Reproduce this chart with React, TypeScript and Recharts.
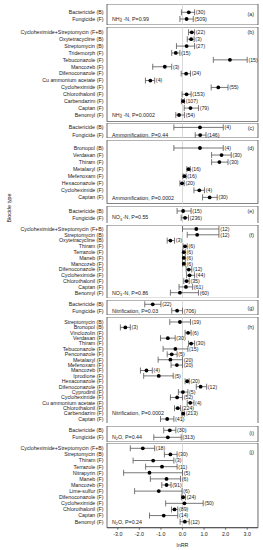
import React from 'react';
import { ScatterChart, Scatter, XAxis, YAxis, ErrorBar, ReferenceLine, ReferenceArea } from 'recharts';

// ---------- DATA ----------
// (a) NH4+-N by biocide class
const namesA = ['Bactericide (B)', 'Fungicide (F)'];
const meanA = [0.29, 0.19];
const lowA = [-0.05, -0.12];
const highA = [0.56, 0.5];
const countA = [30, 509];

// (b) NH4+-N by biocide
const namesB = ['Cycloheximide+Streptomycin (F+B)', 'Oxytetracycline (B)', 'Streptomycin (B)', 'Tridemorph (F)', 'Tebuconazole (F)', 'Mancozeb (F)', 'Difenoconazole (F)', 'Cu ammonium acetate (F)', 'Cycloheximide (F)', 'Chlorothalonil (F)', 'Carbendazim (F)', 'Captan (F)', 'Benomyl (F)'];
const meanB = [0.43, 0.4, 0.19, -0.31, 2.2, -0.82, 0.17, -1.49, 1.66, 0.19, 0.03, 0.37, -0.16];
const lowB = [0.28, 0.22, -0.28, -0.5, 1.43, -1.38, -0.06, -1.72, 1.33, -0.02, -0.05, 0.08, -0.31];
const highB = [0.56, 0.54, 0.56, -0.12, 3.0, -0.5, 0.37, -1.29, 2.11, 0.4, 0.09, 0.74, 0.09];
const countB = [22, 3, 27, 15, 15, 3, 24, 4, 55, 153, 107, 79, 54];

// (c) Ammonification by class
const namesC = ['Bactericide (B)', 'Fungicide (F)'];
const meanC = [0.81, 0.82];
const lowC = [-0.4, 0.59];
const highC = [1.89, 1.09];
const countC = [4, 146];

// (d) Ammonification by biocide
const namesD = ['Bronopol (B)', 'Verdasan (F)', 'Thiram (F)', 'Metalaxyl (F)', 'Mefenoxam (F)', 'Hexaconazole (F)', 'Cycloheximide (F)', 'Captan (F)'];
const meanD = [0.81, 1.81, 1.71, 0.28, 0.09, -0.02, 0.78, 1.26];
const lowD = [-0.4, 1.35, 1.35, 0.2, 0.02, -0.12, 0.53, 0.93];
const highD = [1.89, 2.26, 2.11, 0.36, 0.17, 0.08, 1.02, 1.61];
const countD = [4, 30, 30, 16, 16, 20, 4, 30];

// (e) NO3--N by class
const namesE = ['Bactericide (B)', 'Fungicide (F)'];
const meanE = [0.03, 0.12];
const lowE = [-0.25, -0.06];
const highE = [0.4, 0.28];
const countE = [15, 236];

// (f) NO3--N by biocide
const namesF = ['Cycloheximide+Streptomycin (F+B)', 'Streptomycin (B)', 'Oxytetracycline (B)', 'Thiram (F)', 'Terrazole (F)', 'Maneb (F)', 'Mancozeb (F)', 'Difenoconazole (F)', 'Cycloheximide (F)', 'Chlorothalonil (F)', 'Captan (F)', 'Benomyl (F)'];
const meanF = [0.64, 0.68, -0.56, 0.12, 0.06, 0.06, 0.06, 0.29, 0.33, 0.19, 0.16, -0.12];
const lowF = [0.0, 0.22, -0.71, 0.03, 0.0, 0.0, 0.0, 0.17, 0.19, 0.06, -0.16, -0.56];
const highF = [1.69, 1.69, -0.37, 0.22, 0.13, 0.13, 0.13, 0.43, 0.56, 0.31, 0.47, 0.74];
const countF = [12, 12, 3, 6, 6, 6, 6, 12, 44, 35, 61, 60];

// (g) Nitrification by class
const namesG = ['Bactericide (B)', 'Fungicide (F)'];
const meanG = [-1.38, -0.25];
const lowG = [-1.75, -0.5];
const highG = [-1.0, 0.0];
const countG = [22, 706];

// (h) Nitrification by biocide
const namesH = ['Streptomycin (B)', 'Bronopol (B)', 'Vinclozolin (F)', 'Verdasan (F)', 'Thiram (F)', 'Tebuconazole (F)', 'Penconazole (F)', 'Metalaxyl (F)', 'Mefenoxam (F)', 'Mancozeb (F)', 'Iprodione (F)', 'Hexaconazole (F)', 'Difenoconazole (F)', 'Cyprodinil (F)', 'Cycloheximide (F)', 'Cu ammonium acetate (F)', 'Chlorothalonil (F)', 'Carbendazim (F)', 'Captan (F)'];
const meanH = [-0.12, -2.65, 0.26, -0.68, 0.4, -0.33, -0.5, -0.56, -0.26, -1.67, -1.1, 0.22, 0.84, 0.02, -0.25, 0.36, -0.22, 0.03, -0.71];
const lowH = [-0.59, -2.88, 0.12, -1.02, 0.28, -0.9, -0.71, -1.13, -0.53, -1.95, -1.8, 0.12, 0.64, -0.19, -0.56, 0.22, -0.37, -0.03, -1.02];
const highH = [0.37, -2.42, 0.4, -0.34, 0.56, 0.25, -0.25, 0.0, 0.0, -1.4, -0.43, 0.31, 1.12, 0.25, 0.0, 0.53, -0.09, 0.09, -0.4];
const countH = [19, 3, 6, 30, 30, 15, 5, 20, 20, 4, 5, 20, 12, 5, 52, 4, 224, 213, 41];

// (i) N2O by class
const namesI = ['Bactericide (B)', 'Fungicide (F)'];
const meanI = [-0.59, -0.68];
const lowI = [-0.87, -1.33];
const highI = [-0.31, -0.06];
const countI = [30, 313];

// (j) N2O by biocide
const namesJ = ['Cycloheximide+Streptomycin (F+B)', 'Streptomycin (B)', 'Thiram (F)', 'Terrazole (F)', 'Nitrapyrin (F)', 'Maneb (F)', 'Mancozeb (F)', 'Lime-sulfur (F)', 'Difenoconazole (F)', 'Cycloheximide (F)', 'Chlorothalonil (F)', 'Captan (F)', 'Benomyl (F)'];
const meanJ = [-1.84, -0.56, -1.36, -0.95, -1.53, -0.74, -0.74, -1.1, 0.03, 0.09, -0.37, -0.87, 0.11];
const lowJ = [-2.42, -0.84, -2.29, -1.71, -2.73, -1.49, -0.96, -2.22, -0.05, -0.78, -0.51, -1.53, -0.11];
const highJ = [-1.29, -0.25, -0.4, -0.25, 0.0, -0.09, -0.53, -0.02, 0.14, 0.96, -0.22, -0.22, 0.31];
const countJ = [18, 30, 3, 11, 5, 6, 91, 6, 24, 50, 89, 14, 12];

const xTicks = [-3, -2, -1, 0, 1, 2, 3];
const xDomain = [-3.5, 3.5];
const panelLetters = ['(a)', '(b)', '(c)', '(d)', '(e)', '(f)', '(g)', '(h)', '(i)', '(j)'];

type Seg = [string, 'n' | 'sub' | 'sup'];
const nh4 = (p: string): Seg[] => [['NH', 'n'], ['4', 'sub'], ['+', 'sup'], [' -N, P=' + p, 'n']];
const no3 = (p: string): Seg[] => [['NO', 'n'], ['3', 'sub'], ['-', 'sup'], [' -N, P=' + p, 'n']];
const n2o = (p: string): Seg[] => [['N', 'n'], ['2', 'sub'], ['O, P=' + p, 'n']];
const panelNotes: Seg[][] = [
  nh4('0.99'),
  nh4('0.0002'),
  [['Ammonification, P=0.44', 'n']],
  [['Ammonification, P=0.0002', 'n']],
  no3('0.55'),
  no3('0.86'),
  [['Nitrification, P=0.03', 'n']],
  [['Nitrification, P=0.0002', 'n']],
  n2o('0.44'),
  n2o('0.24'),
];
const noteRowFromEnd = [0, 0, 0, 0, 0, 0, 0, 1, 0, 0];

const panels = [
  { names: namesA, mean: meanA, low: lowA, high: highA, count: countA },
  { names: namesB, mean: meanB, low: lowB, high: highB, count: countB },
  { names: namesC, mean: meanC, low: lowC, high: highC, count: countC },
  { names: namesD, mean: meanD, low: lowD, high: highD, count: countD },
  { names: namesE, mean: meanE, low: lowE, high: highE, count: countE },
  { names: namesF, mean: meanF, low: lowF, high: highF, count: countF },
  { names: namesG, mean: meanG, low: lowG, high: highG, count: countG },
  { names: namesH, mean: meanH, low: lowH, high: highH, count: countH },
  { names: namesI, mean: meanI, low: lowI, high: highI, count: countI },
  { names: namesJ, mean: meanJ, low: lowJ, high: highJ, count: countJ },
];

// ---------- LAYOUT (page px) ----------
const LAYOUT = [
  { top: 4, bottom: 25, first: 12.3, last: 19.0 },
  { top: 27, bottom: 121.7, first: 32.3, last: 115.0 },
  { top: 123.3, bottom: 138.3, first: 127.7, last: 135.4 },
  { top: 140.3, bottom: 204, first: 148.3, last: 197.7 },
  { top: 205.7, bottom: 223.3, first: 210.7, last: 217.5 },
  { top: 225, bottom: 298.3, first: 229, last: 292.7 },
  { top: 300, bottom: 315, first: 304.3, last: 310.7 },
  { top: 316.7, bottom: 423.3, first: 321.7, last: 418.7 },
  { top: 425.7, bottom: 441.7, first: 430, last: 437 },
  { top: 443, bottom: 527.7, first: 448.3, last: 521.7 },
];
const letterY = [14, 32.3, 127.7, 148.3, 211, 234.7, 308, 327, 433, 451.7];

const W = 263;
const PLOT_LEFT = 107;
const PLOT_RIGHT = 258;
const FS = 5.3;
const TXT = '#222';
const LINE = '#444';
const X_AXIS_H = 13;

function geom(i: number) {
  const g = LAYOUT[i];
  const n = panels[i].names.length;
  const s = (g.last - g.first) / (n - 1);
  return { ...g, n, s, d0: -(g.first - g.top) / s, d1: n - 1 + (g.bottom - g.last) / s };
}

const Dot = (props: any) => {
  const { cx, cy } = props;
  if (cx == null || cy == null) return null;
  return <circle cx={cx} cy={cy} r={1.9} fill="#000" />;
};

const CountLabel = (props: any) => {
  const { cx, cy, payload } = props;
  if (cx == null || cy == null) return null;
  return (
    <text x={cx + 1.2} y={cy} dy="0.35em" fontSize={FS} fill={TXT}>
      ({payload.count})
    </text>
  );
};

const XTick = (props: any) => {
  const { x, y, payload } = props;
  return (
    <text x={x} y={y} dy="0.71em" textAnchor="middle" fontSize={FS} fill={TXT}>
      {Number(payload.value).toFixed(1)}
    </text>
  );
};

function Panel({ i }: { i: number }) {
  const p = panels[i];
  const g = geom(i);
  const isLast = i === panels.length - 1;
  const isFirst = i === 0;
  const data = p.names.map((name, k) => ({
    name,
    row: k,
    x: p.mean[k],
    err: [p.mean[k] - p.low[k], p.high[k] - p.mean[k]],
    count: p.count[k],
  }));
  // count labels sit at the upper end of each CI
  const labelData = p.names.map((name, k) => ({ name, row: k, x: p.high[k], count: p.count[k] }));
  const ticks = p.names.map((_, k) => k);
  const h = g.bottom - g.top + (isLast ? X_AXIS_H : 0);
  const YTick = (tp: any) => (
    <text x={tp.x} y={tp.y} dy="0.35em" textAnchor="end" fontSize={FS} fill={TXT}>
      {p.names[tp.payload.value] ?? ''}
    </text>
  );
  return (
    <div style={{ position: 'absolute', left: 0, top: g.top, width: W, height: h }}>
      <ScatterChart width={W} height={h} margin={{ top: 0, right: W - PLOT_RIGHT, bottom: 0, left: 0 }}>
        <XAxis
          type="number"
          dataKey="x"
          scale="linear"
          domain={xDomain}
          allowDataOverflow
          ticks={xTicks}
          hide={!isLast}
          height={X_AXIS_H}
          tickSize={2}
          tickMargin={2.5}
          axisLine={{ stroke: LINE, strokeWidth: 0.8 }}
          tickLine={{ stroke: LINE, strokeWidth: 0.8 }}
          tick={XTick}
          interval={0}
        />
        {isFirst && (
          <XAxis
            xAxisId="top"
            orientation="top"
            mirror
            type="number"
            dataKey="x"
            scale="linear"
            domain={xDomain}
            allowDataOverflow
            ticks={xTicks}
            tick={false}
            tickSize={2}
            axisLine={false}
            tickLine={{ stroke: LINE, strokeWidth: 0.8 }}
          />
        )}
        <YAxis
          type="number"
          dataKey="row"
          scale="linear"
          domain={[g.d0, g.d1]}
          allowDataOverflow
          reversed
          ticks={ticks}
          interval={0}
          width={PLOT_LEFT}
          tickLine={false}
          axisLine={false}
          tickSize={2}
          tickMargin={1.5}
          tick={YTick}
        />
        <ReferenceLine x={0} stroke="#cfcfcf" strokeWidth={0.8} ifOverflow="visible" />
        <ReferenceArea
          x1={xDomain[0]}
          x2={xDomain[1]}
          y1={g.d0}
          y2={g.d1}
          fill="none"
          stroke={LINE}
          strokeWidth={0.8}
          ifOverflow="visible"
        />
        <Scatter data={data} dataKey="x" shape={Dot} isAnimationActive={false}>
          <ErrorBar dataKey="err" direction="x" width={3} stroke="#555" strokeWidth={0.8} />
        </Scatter>
        <Scatter data={labelData} dataKey="x" shape={CountLabel} isAnimationActive={false} />
      </ScatterChart>
    </div>
  );
}

function Note({ segs, x, y }: { segs: Seg[]; x: number; y: number }) {
  let off = 0;
  let prev: string = 'n';
  const parts = segs.map(([t, kind], k) => {
    const target = kind === 'sub' ? 1.3 : kind === 'sup' ? -2.2 : 0;
    const dy = target - off;
    off = target;
    const dx = kind === 'sup' && prev === 'sub' ? -2.0 : 0;
    prev = kind;
    return (
      <tspan key={k} dy={dy} dx={dx} fontSize={kind === 'n' ? FS : 3.8}>
        {t}
      </tspan>
    );
  });
  return (
    <text x={x} y={y} fill={TXT} fontSize={FS}>
      {parts}
    </text>
  );
}

export default function App() {
  return (
    <div
      style={{
        position: 'absolute',
        left: 0,
        top: 0,
        width: W,
        height: 550,
        background: '#fff',
        fontFamily: '"Liberation Sans", Arial, sans-serif',
      }}
    >
      {panels.map((_, i) => (
        <Panel key={i} i={i} />
      ))}
      <svg width={W} height={550} style={{ position: 'absolute', left: 0, top: 0, pointerEvents: 'none' }}>
        {panels.map((_, i) => {
          const g = geom(i);
          const rowY = g.first + g.s * (g.n - 1 - noteRowFromEnd[i]);
          return (
            <g key={i}>
              <Note segs={panelNotes[i]} x={112} y={rowY + 1.9} />
              <text x={254} y={letterY[i] + 1.9} textAnchor="end" fontSize={FS} fill={TXT}>
                {panelLetters[i]}
              </text>
            </g>
          );
        })}
        <text x={10.5} y={208} transform="rotate(-90 10.5 208)" textAnchor="middle" fontSize={FS} fill={TXT}>
          Biocide type
        </text>
        <text x={182.5} y={547} textAnchor="middle" fontSize={FS} fill={TXT}>
          lnRR
        </text>
      </svg>
    </div>
  );
}
